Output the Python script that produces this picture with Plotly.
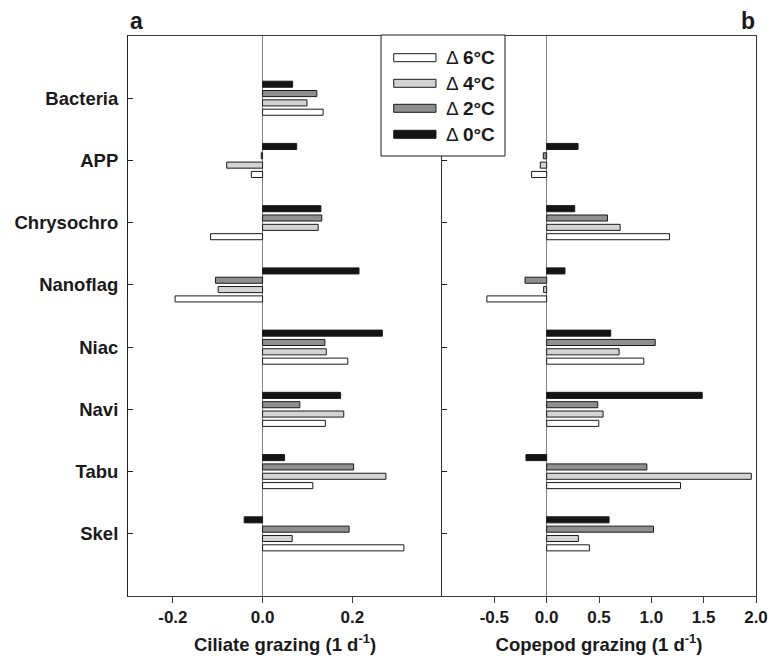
import plotly.graph_objects as go

categories = ["Bacteria", "APP", "Chrysochro", "Nanoflag", "Niac", "Navi", "Tabu", "Skel"]
series_names = ["Δ 0°C", "Δ 2°C", "Δ 4°C", "Δ 6°C"]
series_colors = ["#141414", "#8f8f8f", "#d4d4d4", "#ffffff"]

# Ciliate grazing (panel a)
cil_d0 = [0.067, 0.076, 0.130, 0.215, 0.267, 0.174, 0.049, -0.041]
cil_d2 = [0.121, -0.003, 0.132, -0.105, 0.139, 0.083, 0.203, 0.193]
cil_d4 = [0.099, -0.080, 0.124, -0.099, 0.142, 0.181, 0.275, 0.066]
cil_d6 = [0.135, -0.025, -0.116, -0.195, 0.190, 0.140, 0.112, 0.315]

# Copepod grazing (panel b)
cop_d0 = [None, 0.300, 0.268, 0.175, 0.612, 1.486, -0.198, 0.596]
cop_d2 = [None, -0.032, 0.581, -0.207, 1.037, 0.488, 0.957, 1.021]
cop_d4 = [None, -0.061, 0.702, -0.029, 0.692, 0.539, 1.955, 0.303]
cop_d6 = [None, -0.144, 1.174, -0.571, 0.928, 0.498, 1.279, 0.408]

left_ticks = [-0.2, 0.0, 0.2]
left_ticktext = ["-0.2", "0.0", "0.2"]
right_ticks = [-0.5, 0.0, 0.5, 1.0, 1.5, 2.0]
right_ticktext = ["-0.5", "0.0", "0.5", "1.0", "1.5", "2.0"]

FONT = "Liberation Sans, Arial, sans-serif"
BOLD = lambda s: dict(family=FONT, size=s, color="#1a1a1a", weight="bold")

fig = go.Figure()
cil = [cil_d0, cil_d2, cil_d4, cil_d6]
cop = [cop_d0, cop_d2, cop_d4, cop_d6]
for name, color, vals in zip(series_names, series_colors, cil):
    fig.add_trace(go.Bar(y=categories, x=vals, orientation="h", name=name,
                         marker=dict(color=color, line=dict(color="#1a1a1a", width=1)),
                         xaxis="x", yaxis="y", showlegend=False))
for name, color, vals in zip(series_names, series_colors, cop):
    fig.add_trace(go.Bar(y=categories, x=vals, orientation="h", name=name,
                         marker=dict(color=color, line=dict(color="#1a1a1a", width=1)),
                         xaxis="x2", yaxis="y2", showlegend=False))

axis_common = dict(showline=True, linecolor="#3a3a3a", linewidth=1, mirror=True, automargin=False,
                   showgrid=False, zeroline=True, zerolinecolor="#808080", zerolinewidth=1.2,
                   ticks="outside", ticklen=6, tickcolor="#3a3a3a",
                   tickfont=BOLD(17))

fig.update_layout(
    width=772, height=656,
    margin=dict(l=128, r=16, t=36, b=60, autoexpand=False),
    paper_bgcolor="white", plot_bgcolor="white",
    barmode="group", bargap=0.4, bargroupgap=0.35,
    font=dict(family=FONT, color="#1a1a1a"),
    xaxis=dict(domain=[0, 0.5], range=[-0.3, 0.4], tickvals=left_ticks, ticktext=left_ticktext,
               title=dict(text="Ciliate grazing (1 d<sup>-1</sup>)", font=BOLD(18.5), standoff=11),
               **axis_common),
    xaxis2=dict(domain=[0.5, 1], range=[-1.0, 2.0], tickvals=right_ticks, ticktext=right_ticktext,
                anchor="y2",
                title=dict(text="Copepod grazing (1 d<sup>-1</sup>)", font=BOLD(18.5), standoff=11),
                **axis_common),
    yaxis=dict(type="category", categoryorder="array", categoryarray=categories, range=[7.999, -1.0],
               showline=True, linecolor="#222222", linewidth=1, mirror=False, showgrid=False, automargin=False,
               ticks="inside", ticklen=5, tickcolor="#222222", ticklabelstandoff=5,
               tickfont=BOLD(18.5)),
    yaxis2=dict(type="category", categoryorder="array", categoryarray=categories, range=[7.999, -1.0],
                anchor="x2", showline=True, linecolor="#333333", linewidth=1, mirror=True, showgrid=False,
                automargin=False, ticks="inside", ticklen=5, tickcolor="#222222", showticklabels=False),
)

# panel labels
fig.add_annotation(text="a", x=0.014, y=1.027, xref="paper", yref="paper", showarrow=False,
                   font=BOLD(23), xanchor="center", yanchor="middle")
fig.add_annotation(text="b", x=0.987, y=1.027, xref="paper", yref="paper", showarrow=False,
                   font=BOLD(23), xanchor="center", yanchor="middle")

# custom legend (box with wide swatches)
fig.add_shape(type="rect", xref="paper", yref="paper", x0=0.4029, x1=0.6003, y0=0.7857, y1=1.0018,
              fillcolor="white", line=dict(color="#1a1a1a", width=1), layer="above")
legend_order = [3, 2, 1, 0]
row_py = [57.7, 83.3, 108.3, 134.3]
for idx, py in zip(legend_order, row_py):
    yc = (596 - py) / 560
    h = 4 / 560
    fig.add_shape(type="rect", xref="paper", yref="paper", x0=0.4231, x1=0.4904, y0=yc - h, y1=yc + h,
                  fillcolor=series_colors[idx], line=dict(color="#1a1a1a", width=1), layer="above")
    d, t = series_names[idx].split(" ")
    fig.add_annotation(text="%s <b>%s</b>" % (d, t), x=0.5032, y=yc, xref="paper", yref="paper",
                       showarrow=False, xanchor="left", yanchor="middle",
                       font=dict(family=FONT, size=19, color="#1a1a1a"))

fig.write_html("out.html", config={"displayModeBar": False},
               post_script="document.body.style.margin='0px';")
